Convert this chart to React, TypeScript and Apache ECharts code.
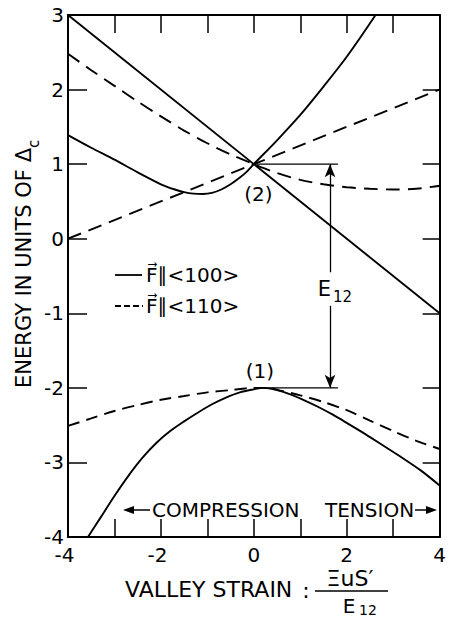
import React, { useEffect, useRef } from "react";
import * as echarts from "echarts";

const FONT = "DejaVu Sans";

// Axis ranges (energy in units of Δc vs. valley strain ΞuS'/E12)
const X_RANGE = [-4, 4];
const Y_RANGE = [-4, 3];

// F ∥ <100>  (solid curves)
const line100: number[][] = [[-4, 3], [4, -1]];
const upper100: number[][] = [
  [-4, 1.39], [-3.5, 1.22], [-3, 1.06], [-2.5, 0.89], [-2, 0.73], [-1.7, 0.66],
  [-1.5, 0.625], [-1.3, 0.605], [-1.1, 0.6], [-0.9, 0.615], [-0.7, 0.66],
  [-0.5, 0.73], [-0.3, 0.82], [-0.15, 0.9], [0, 1.0], [0.5, 1.32], [1.0, 1.66],
  [1.5, 2.04], [2.0, 2.44], [2.62, 3.0],
];
const lower100: number[][] = [
  [-3.57, -4.0], [-3.3, -3.74], [-3.0, -3.45], [-2.7, -3.18], [-2.4, -2.94],
  [-2.1, -2.74], [-1.8, -2.58], [-1.5, -2.45], [-1.2, -2.33], [-0.9, -2.22],
  [-0.6, -2.13], [-0.3, -2.06], [0, -2.02], [0.2, -2.0], [0.5, -2.03],
  [0.8, -2.09], [1.1, -2.17], [1.4, -2.26], [1.7, -2.36], [2.0, -2.47],
  [2.4, -2.62], [2.8, -2.78], [3.2, -2.94], [3.6, -3.11], [4, -3.31],
];

// F ∥ <110>  (dashed curves)
const line110: number[][] = [[-4, 0], [4, 2]];
const upper110: number[][] = [
  [-4, 2.48], [-3.5, 2.26], [-3, 2.05], [-2.5, 1.84], [-2, 1.64], [-1.5, 1.45],
  [-1, 1.28], [-0.5, 1.13], [0, 1.0], [0.5, 0.88], [1, 0.79], [1.5, 0.73],
  [2, 0.69], [2.5, 0.67], [3, 0.66], [3.5, 0.67], [4, 0.71],
];
const lower110: number[][] = [
  [-4, -2.51], [-3.5, -2.41], [-3, -2.31], [-2.5, -2.23], [-2, -2.16],
  [-1.5, -2.11], [-1, -2.06], [-0.5, -2.03], [0, -2.0], [0.3, -2.0],
  [0.6, -2.04], [1, -2.1], [1.5, -2.19], [2, -2.3], [2.5, -2.44], [3, -2.58],
  [3.5, -2.71], [4, -2.82],
];

// E12 splitting marker: levels (2) and (1), the double arrow and its label gap
const levelUpper: number[][] = [[0, 1], [1.81, 1]];
const levelLower: number[][] = [[0.1, -2], [1.81, -2]];
const arrowX = 1.64;
const arrowGap = [-0.45, -0.9];
const e12LabelY = -0.67;

// state labels
const stateLabels = [
  { text: "(2)", at: [0.1, 0.6] },
  { text: "(1)", at: [0.13, -1.78] },
];

const black = "#000";

function curve(name: string, data: number[][], dash: any, smooth: number | boolean) {
  return {
    type: "line",
    name,
    data,
    showSymbol: false,
    symbol: "none",
    smooth,
    silent: true,
    clip: true,
    lineStyle: { color: black, width: 1.9, type: dash },
    z: 3,
  };
}

export default function App() {
  const ref = useRef<HTMLDivElement>(null);

  useEffect(() => {
    document.body.style.margin = "0";
    const el = ref.current!;
    const chart = echarts.init(el, null, { renderer: "svg" });

    const tickStyle = { show: true, inside: true, length: 18, lineStyle: { color: black, width: 1.5 } };
    const axisLineStyle = { show: true, onZero: false, lineStyle: { color: black, width: 2 } };

    const option: any = {
      animation: false,
      backgroundColor: "#fff",
      grid: { left: 68, top: 15, width: 382, height: 522, containLabel: false },
      xAxis: [
        {
          type: "value",
          position: "bottom",
          min: X_RANGE[0],
          max: X_RANGE[1],
          interval: 1,
          axisLine: axisLineStyle,
          axisTick: tickStyle,
          splitLine: { show: false },
          axisLabel: {
            margin: 9,
            lineHeight: 18,
            showMinLabel: true,
            showMaxLabel: true,
            formatter: (v: number) =>
              Math.round(v) % 2 !== 0 ? "" : v < 0 ? `{n|${v}}` : `{p|${v}}`,
            rich: {
              n: { fontSize: 20, lineHeight: 18, fontFamily: FONT, color: black, padding: [0, 7, 0, 0] },
              p: { fontSize: 20, lineHeight: 18, fontFamily: FONT, color: black },
            },
          },
        },
        {
          type: "value",
          position: "top",
          min: X_RANGE[0],
          max: X_RANGE[1],
          interval: 1,
          axisLine: axisLineStyle,
          axisTick: tickStyle,
          axisLabel: { show: false },
          splitLine: { show: false },
        },
      ],
      yAxis: [
        {
          type: "value",
          position: "left",
          min: Y_RANGE[0],
          max: Y_RANGE[1],
          interval: 1,
          axisLine: axisLineStyle,
          axisTick: { ...tickStyle, length: 19 },
          splitLine: { show: false },
          axisLabel: { margin: 4, fontSize: 20, lineHeight: 16, fontFamily: FONT, color: black },
        },
        {
          type: "value",
          position: "right",
          min: Y_RANGE[0],
          max: Y_RANGE[1],
          interval: 1,
          axisLine: axisLineStyle,
          axisTick: { ...tickStyle, length: 17 },
          axisLabel: { show: false },
          splitLine: { show: false },
        },
      ],
      series: [
        curve("F∥<100> linear", line100, "solid", false),
        curve("F∥<100> upper", upper100, "solid", 0.3),
        curve("F∥<100> lower", lower100, "solid", 0.3),
        curve("F∥<110> linear", line110, [14, 8], false),
        curve("F∥<110> upper", upper110, [14, 8], 0.3),
        curve("F∥<110> lower", lower110, [12, 7], 0.3),
        {
          ...curve("level (2)", levelUpper, "solid", false),
          lineStyle: { color: black, width: 1.3 },
        },
        {
          ...curve("level (1)", levelLower, "solid", false),
          lineStyle: { color: black, width: 1.3 },
          markLine: {
            silent: true,
            symbol: ["none", "arrow"],
            symbolSize: [8, 13],
            label: { show: false },
            lineStyle: { color: black, width: 1.3, type: "solid" },
            emphasis: { disabled: true },
            data: [
              [{ coord: [arrowX, arrowGap[0]] }, { coord: [arrowX, levelUpper[0][1]] }],
              [{ coord: [arrowX, arrowGap[1]] }, { coord: [arrowX, levelLower[0][1]] }],
            ],
          },
        },
      ],
    };

    chart.setOption(option);

    const px = (p: number[]) => chart.convertToPixel({ gridIndex: 0 }, p) as number[];
    const txt = (x: number, y: number, text: string, fontSize: number, align = "center", extra: any = {}) => ({
      type: "text",
      x,
      y,
      silent: true,
      ...extra,
      style: { text, fontSize, fontFamily: FONT, fill: black, align, verticalAlign: "middle" },
    });

    const e12Anchor = px([arrowX, e12LabelY]);
    const graphic: any[] = [
      // y-axis title
      txt(24, 148, "ENERGY IN UNITS OF Δ", 21, "right", { rotation: Math.PI / 2 }),
      txt(34, 148, "c", 15, "left", { rotation: Math.PI / 2 }),
      // x-axis title with fraction
      txt(125, 589, "VALLEY STRAIN", 22, "left"),
      txt(306, 590, ":", 22, "center"),
      txt(350, 578, "ΞuS′", 22, "center"),
      { type: "line", silent: true, shape: { x1: 315, y1: 591, x2: 388, y2: 591 }, style: { stroke: black, lineWidth: 1.5 } },
      txt(349, 606, "E", 20, "center"),
      txt(368, 610, "12", 14, "center"),
      // legend
      { type: "line", silent: true, shape: { x1: 115, y1: 275, x2: 142, y2: 275 }, style: { stroke: black, lineWidth: 1.8 } },
      txt(146, 275, "F⃗∥<100>", 20, "left"),
      { type: "line", silent: true, shape: { x1: 115, y1: 306, x2: 143, y2: 306 }, style: { stroke: black, lineWidth: 1.8, lineDash: [6, 3] } },
      txt(146, 306, "F⃗∥<110>", 20, "left"),
      // compression / tension
      { type: "polygon", silent: true, shape: { points: [[123, 510], [134, 506], [134, 514]] }, style: { fill: black } },
      { type: "line", silent: true, shape: { x1: 132, y1: 510, x2: 150, y2: 510 }, style: { stroke: black, lineWidth: 1.5 } },
      txt(152, 510, "COMPRESSION", 20, "left"),
      txt(325, 510, "TENSION", 20, "left"),
      { type: "line", silent: true, shape: { x1: 415, y1: 510, x2: 428, y2: 510 }, style: { stroke: black, lineWidth: 1.5 } },
      { type: "polygon", silent: true, shape: { points: [[437, 510], [426, 506], [426, 514]] }, style: { fill: black } },
      // E12 label beside the double arrow
      txt(e12Anchor[0] + 1, e12Anchor[1], "E", 21, "right"),
      txt(e12Anchor[0] + 3, e12Anchor[1] + 8, "12", 15, "left"),
      // state labels
      ...stateLabels.map((s) => {
        const p = px(s.at);
        return txt(p[0], p[1], s.text, 20, "center");
      }),
    ];

    chart.setOption({ graphic });

    return () => chart.dispose();
  }, []);

  return <div ref={ref} style={{ width: 449, height: 619 }} />;
}
